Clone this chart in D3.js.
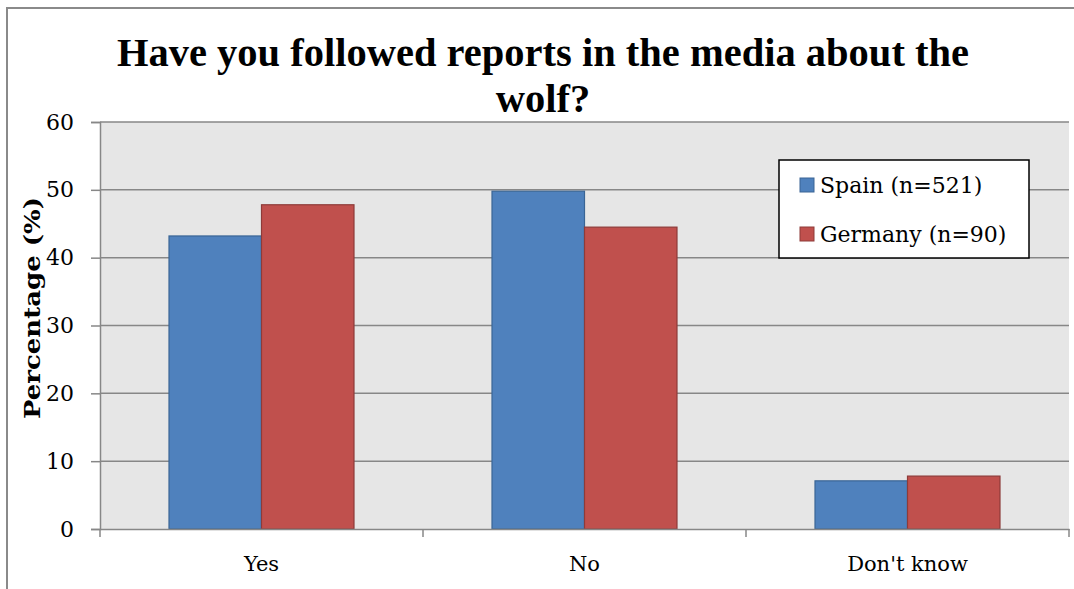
<!DOCTYPE html>
<html><head><meta charset="utf-8">
<script src="https://cdn.jsdelivr.net/npm/d3@7"></script>
<style>body{margin:0;background:#fff}svg{display:block}</style>
</head><body><svg id="c" width="1074" height="589"></svg>
<script>
const categories = ["Yes", "No", "Don't know"];
const seriesNames = ["Spain (n=521)", "Germany (n=90)"];
const spain = [43.2, 49.8, 7.1];
const germany = [47.8, 44.5, 7.8];
const yTicks = [0, 10, 20, 30, 40, 50, 60];
const titleLines = ["Have you followed reports in the media about the", "wolf?"];
const yLabel = "Percentage (%)";

const fills = ["#4f81bd", "#c0504d"];
const strokes = ["#3a6595", "#8e3b39"];
const SERIF = "'DejaVu Serif', serif";
const svg = d3.select("#c");
const m = {l: 100, r: 1069, t: 122, b: 529};

svg.append("rect").attr("x", 7).attr("y", 8).attr("width", 1100).attr("height", 620)
  .attr("fill", "#fff").attr("stroke", "#8a8a8a").attr("stroke-width", 2);

const x = d3.scaleBand().domain(categories).range([m.l, m.r]).paddingInner(0).paddingOuter(0);
const xs = d3.scaleBand().domain([0, 1]).range([0, x.bandwidth()]).paddingInner(0).paddingOuter(0.746);
const y = d3.scaleLinear().domain([0, 60]).range([m.b, m.t]);

svg.append("rect").attr("x", m.l).attr("y", m.t).attr("width", m.r - m.l).attr("height", m.b - m.t).attr("fill", "#e6e6e6");

// gridlines
svg.append("g").selectAll("line").data(yTicks.filter(d => d > 0)).join("line")
  .attr("x1", m.l).attr("x2", m.r).attr("y1", d => y(d)).attr("y2", d => y(d))
  .attr("stroke", "#878787").attr("stroke-width", 1.5);

// bars
const data = categories.map((c, i) => [spain[i], germany[i]]);
const g = svg.append("g");
data.forEach((vals, i) => {
  vals.forEach((v, s) => {
    g.append("rect")
      .attr("x", x(categories[i]) + xs(s))
      .attr("y", y(v))
      .attr("width", xs.bandwidth())
      .attr("height", y(0) - y(v))
      .attr("fill", fills[s]).attr("stroke", strokes[s]).attr("stroke-width", 1.2);
  });
});

// y axis
const ya = svg.append("g").attr("transform", `translate(${m.l},0)`)
  .call(d3.axisLeft(y).tickValues(yTicks).tickSize(9).tickPadding(17));
ya.select(".domain").attr("stroke", "#878787").attr("stroke-width", 1.5);
ya.selectAll(".tick line").attr("stroke", "#878787").attr("stroke-width", 1.5);
ya.selectAll(".tick text").style("font-size", "22px").style("font-family", SERIF).attr("fill", "#000");

// x axis
const xa = svg.append("g").attr("transform", `translate(0,${m.b})`)
  .call(d3.axisBottom(x).tickSize(0).tickPadding(27));
xa.select(".domain").attr("stroke", "#878787").attr("stroke-width", 1.5);
xa.selectAll(".tick text").style("font-size", "21px").style("font-family", SERIF).attr("fill", "#000");
const bounds = categories.map(c => x(c)).concat([m.r]);
svg.append("g").selectAll("line").data(bounds).join("line")
  .attr("x1", d => d).attr("x2", d => d).attr("y1", m.b).attr("y2", m.b + 8)
  .attr("stroke", "#878787").attr("stroke-width", 1.5);

// title
titleLines.forEach((t, i) => {
  svg.append("text").attr("x", 543).attr("y", 66 + i * 46).attr("text-anchor", "middle")
    .style("font-size", "40.5px").style("font-weight", "bold").style("font-family", "'Liberation Serif', serif")
    .attr("fill", "#000").text(t);
});

// y label
svg.append("text").attr("transform", "translate(40,308) rotate(-90)").attr("text-anchor", "middle")
  .style("font-size", "23px").style("font-weight", "bold").style("font-family", SERIF)
  .attr("textLength", 222).attr("lengthAdjust", "spacingAndGlyphs").attr("fill", "#000").text(yLabel);

// legend
const lg = svg.append("g");
lg.append("rect").attr("x", 779).attr("y", 160).attr("width", 250).attr("height", 98)
  .attr("fill", "#fff").attr("stroke", "#000").attr("stroke-width", 1.5);
seriesNames.forEach((n, i) => {
  const yy = 185 + i * 49;
  lg.append("rect").attr("x", 800).attr("y", yy - 7).attr("width", 14).attr("height", 14)
    .attr("fill", fills[i]).attr("stroke", strokes[i]).attr("stroke-width", 1);
  lg.append("text").attr("x", 820).attr("y", yy + 8).style("font-size", "22px").style("font-family", SERIF)
    .attr("fill", "#000").text(n);
});
</script></body></html>
